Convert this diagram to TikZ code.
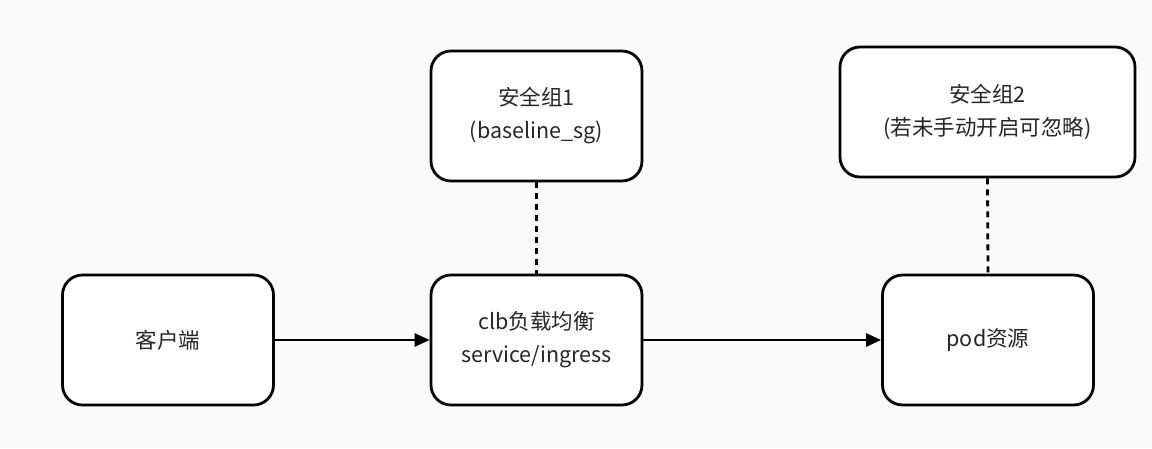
\documentclass[tikz,border=0pt]{standalone}
\usepackage{fontspec}
\setmainfont{Noto Sans CJK SC}
\usetikzlibrary{arrows.meta, positioning}

\begin{document}
\begin{tikzpicture}[x=1pt, y=-1pt,
		box/.style={draw, line width=2.8pt, rounded corners=20pt, fill=white,
			minimum width=211pt, minimum height=130pt, align=center,
			text=black!85, font=\fontsize{21.5}{33}\selectfont},
		flow/.style={-{Triangle[length=15pt, width=13pt]}, line width=2.8pt},
		link/.style={line width=2.8pt, dash pattern=on 6pt off 5pt}]
		% Background and page size
		\fill[black!2] (0,0) rectangle (1152,448);
		\useasboundingbox (0,0) rectangle (1152,448);
		
		% Boxes
		\node[box] (client) at (168,340) {客户端};
		\node[box] (clb) at (536.5,340) {clb负载均衡\\service/ingress};
		\node[box] (pod) at (988,340) {pod资源};
		\node[box] (sgone) at (536.5,116) {安全组1\\(baseline\_sg)};
		\node[box, minimum width=295pt] (sgtwo) at (987.5,112) {安全组2\\(若未手动开启可忽略)};
		
		% Traffic
		\draw[flow] (client) -- (clb);
		\draw[flow] (clb) -- (pod);
		
		% Security groups
		\draw[link] (sgone) -- (clb);
		\draw[link] (sgtwo.south) -- (pod.north);
	\end{tikzpicture}
\end{document}
